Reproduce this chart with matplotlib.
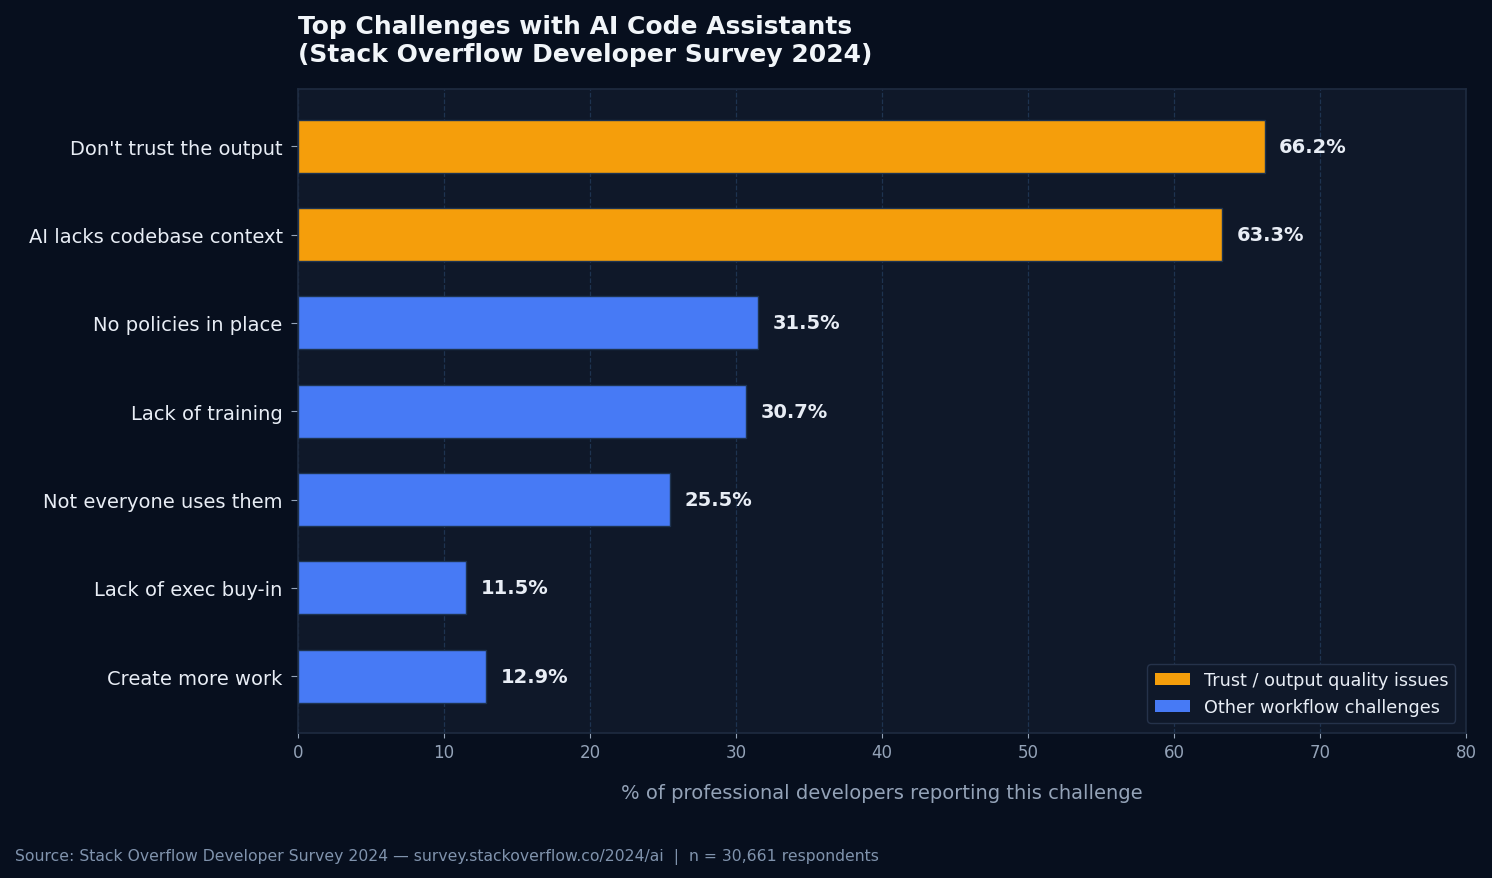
import matplotlib.pyplot as plt
from matplotlib.patches import Patch

# Data
challenges = [
    "Don't trust the output",
    "AI lacks codebase context",
    "No policies in place",
    "Lack of training",
    "Not everyone uses them",
    "Lack of exec buy-in",
    "Create more work",
]
percents = [66.2, 63.3, 31.5, 30.7, 25.5, 11.5, 12.9]
is_trust = [True, True, False, False, False, False, False]

# Colours
fig_bg = "#070f1e"
ax_bg = "#0f1829"
orange = "#f59e0b"
blue = "#477af5"
spine_col = "#1e2b40"
grid_col = "#1e3350"
text_col = "#e8edf5"
muted = "#94a3b8"

fig = plt.figure(figsize=(14.92, 8.79), dpi=100, facecolor=fig_bg)
ax = fig.add_axes([0.1997, 0.1644, 0.7829, 0.7332])
ax.set_facecolor(ax_bg)

colors = [orange if t else blue for t in is_trust]
ypos = list(range(len(challenges)))
ax.barh(ypos, percents, height=0.6, color=colors, edgecolor="#1e3350",
        linewidth=1, zorder=3)
ax.set_ylim(len(challenges) - 1 + 0.65, -0.65)

for y, v in zip(ypos, percents):
    ax.text(v + 1, y, f"{v}%", va="center", ha="left", color=text_col,
            fontsize=14, fontweight="bold", zorder=4)

ax.set_xlim(0, 80)
ax.set_yticks(ypos)
ax.set_yticklabels(challenges, fontsize=14, color=text_col)
ax.tick_params(axis="x", colors=muted, labelsize=12)
ax.tick_params(axis="y", colors=muted, labelcolor=text_col, length=5, pad=6)

ax.xaxis.grid(True, linestyle="--", color=grid_col, linewidth=0.9, zorder=0)
ax.set_axisbelow(True)
for s in ax.spines.values():
    s.set_color(spine_col)
    s.set_linewidth(1.2)

ax.set_xlabel("% of professional developers reporting this challenge",
              fontsize=14, color=muted, labelpad=16)

ax.set_title("Top Challenges with AI Code Assistants\n(Stack Overflow Developer Survey 2024)",
             loc="left", fontsize=18, fontweight="bold", color="#f1f5f9", pad=20.5)

handles = [Patch(facecolor=orange, label="Trust / output quality issues"),
           Patch(facecolor=blue, label="Other workflow challenges")]
leg = ax.legend(handles=handles, loc="lower right", fontsize=12.7,
                facecolor=ax_bg, edgecolor="#25324a", labelcolor=text_col,
                framealpha=1, borderaxespad=0.6)

fig.text(0.01, 0.021,
         "Source: Stack Overflow Developer Survey 2024 \u2014 survey.stackoverflow.co/2024/ai  |  n = 30,661 respondents",
         fontsize=11.25, color="#8093ad", ha="left", va="baseline")

fig.savefig("out.png", dpi=100, facecolor=fig_bg)
